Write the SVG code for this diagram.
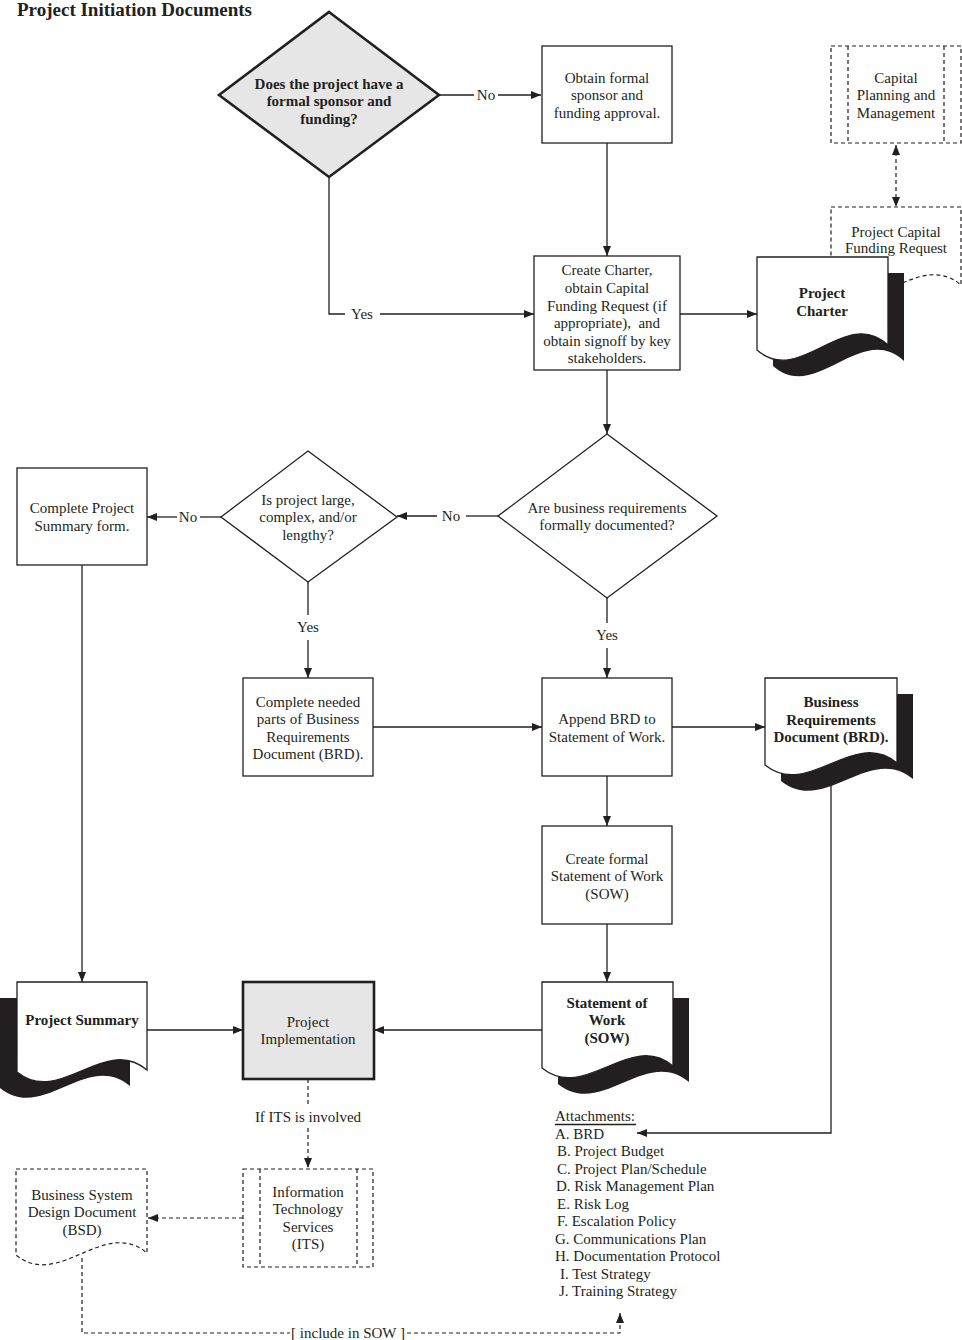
<svg xmlns="http://www.w3.org/2000/svg" width="962" height="1340" viewBox="0 0 962 1340">
<style>
text{font-family:"Liberation Serif","DejaVu Serif",serif;font-size:15px;fill:#231f20;text-anchor:middle}
.b{font-weight:bold}
.l{text-anchor:start}
.ttl{font-size:19px;font-weight:bold;text-anchor:start}
.box{fill:#fff;stroke:#231f20;stroke-width:1.3}
.gray{fill:#e6e6e6;stroke:#231f20;stroke-width:2.6}
.dbox{fill:#fff;stroke:#231f20;stroke-width:1.2;stroke-dasharray:4 3}
.dl{fill:none;stroke:#231f20;stroke-width:1.2;stroke-dasharray:4 3}
.ln{fill:none;stroke:#231f20;stroke-width:1.3}
.sh{fill:#231f20}
</style>
<defs>
<marker id="ar" viewBox="0 0 10 8" refX="10" refY="4" markerWidth="10" markerHeight="8" markerUnits="userSpaceOnUse" orient="auto-start-reverse">
<path d="M0,0 L10,4 L0,8 Z" fill="#231f20"/>
</marker>
</defs>
<rect width="962" height="1340" fill="#fff"/>
<text class="ttl" x="17" y="16">Project Initiation Documents</text>

<g id="connectors">
<path class="ln" d="M439,95 H474"/>
<path class="ln" d="M498,95 H541" marker-end="url(#ar)"/>
<path class="ln" d="M607,143 V256" marker-end="url(#ar)"/>
<path class="ln" d="M329,177 V314 H345"/>
<path class="ln" d="M380,314 H534" marker-end="url(#ar)"/>
<path class="ln" d="M680,314 H757" marker-end="url(#ar)"/>
<path class="dl" d="M896,145 V207" marker-start="url(#ar)" marker-end="url(#ar)"/>
<path class="ln" d="M607,370 V434" marker-end="url(#ar)"/>
<path class="ln" d="M498,516 H466"/>
<path class="ln" d="M437,516 H397" marker-end="url(#ar)"/>
<path class="ln" d="M221,517 H200"/>
<path class="ln" d="M177,517 H147" marker-end="url(#ar)"/>
<path class="ln" d="M82,565 V982" marker-end="url(#ar)"/>
<path class="ln" d="M308,582 V615"/>
<path class="ln" d="M308,640 V678" marker-end="url(#ar)"/>
<path class="ln" d="M607,598 V623"/>
<path class="ln" d="M607,648 V678" marker-end="url(#ar)"/>
<path class="ln" d="M373,727 H542" marker-end="url(#ar)"/>
<path class="ln" d="M672,727 H765" marker-end="url(#ar)"/>
<path class="ln" d="M607,776 V826" marker-end="url(#ar)"/>
<path class="ln" d="M607,924 V982" marker-end="url(#ar)"/>
<path class="ln" d="M542,1030 H374" marker-end="url(#ar)"/>
<path class="ln" d="M147,1030 H243" marker-end="url(#ar)"/>
<path class="dl" d="M308,1079 V1105"/>
<path class="dl" d="M308,1128 V1168" marker-end="url(#ar)"/>
<path class="dl" d="M243,1218 H148" marker-end="url(#ar)"/>
<path class="dl" d="M82,1258 V1333 H290"/>
<path class="dl" d="M407,1333 H620 V1313" marker-end="url(#ar)"/>
<path class="ln" d="M831,775 V1133 H637" marker-end="url(#ar)"/>
<text x="486" y="100">No</text>
<text x="362" y="319">Yes</text>
<text x="451" y="521">No</text>
<text x="188" y="522">No</text>
<text x="308" y="632">Yes</text>
<text x="607" y="640">Yes</text>
<text x="308" y="1122">If ITS is involved</text>
<text x="348" y="1338">[ include in SOW ]</text>
</g>

<g id="q-sponsor">
<polygon class="gray" points="329,12 439,95 329,177 219,95"/>
<text class="b" x="329" y="89">Does the project have a</text>
<text class="b" x="329" y="106">formal sponsor and</text>
<text class="b" x="329" y="124">funding?</text>
</g>

<g id="obtain-sponsor">
<rect class="box" x="542" y="46" width="130" height="97"/>
<text x="607" y="83">Obtain formal</text>
<text x="607" y="100">sponsor and</text>
<text x="607" y="118">funding approval.</text>
</g>

<g id="capital-planning">
<rect class="dbox" x="831" y="46" width="130" height="97"/>
<path class="dl" d="M848,46 V143 M944,46 V143"/>
<text x="896" y="83">Capital</text>
<text x="896" y="100">Planning and</text>
<text x="896" y="118">Management</text>
</g>

<g id="funding-request">
<path class="dbox" d="M831,207 H961 V285 C918.1,249 873.9,322 831,287 Z"/>
<text x="896" y="237">Project Capital</text>
<text x="896" y="253">Funding Request</text>
</g>

<g id="create-charter">
<rect class="box" x="534" y="256" width="146" height="114"/>
<text x="607" y="275">Create Charter,</text>
<text x="607" y="293">obtain Capital</text>
<text x="607" y="311">Funding Request (if</text>
<text x="607" y="328" xml:space="preserve">appropriate),  and</text>
<text x="607" y="346">obtain signoff by key</text>
<text x="607" y="363">stakeholders.</text>
</g>

<g id="project-charter">
<path class="sh" transform="translate(16,16)" d="M757,257 H888 V345 C844.8,305 800.2,388 757,350 Z"/>
<path class="box" d="M757,257 H888 V345 C844.8,305 800.2,388 757,350 Z"/>
<text class="b" x="822" y="298">Project</text>
<text class="b" x="822" y="316">Charter</text>
</g>

<g id="q-brd">
<polygon class="box" points="607,434 717,516 607,598 498,516"/>
<text x="607" y="513">Are business requirements</text>
<text x="607" y="530">formally documented?</text>
</g>

<g id="q-large">
<polygon class="box" points="308,451 397,517 308,582 221,517"/>
<text x="308" y="505">Is project large,</text>
<text x="308" y="522">complex, and/or</text>
<text x="308" y="540">lengthy?</text>
</g>

<g id="project-summary-form">
<rect class="box" x="17" y="468" width="130" height="97"/>
<text x="82" y="513">Complete Project</text>
<text x="82" y="531">Summary form.</text>
</g>

<g id="complete-brd">
<rect class="box" x="243" y="678" width="130" height="98"/>
<text x="308" y="707">Complete needed</text>
<text x="308" y="724">parts of Business</text>
<text x="308" y="742">Requirements</text>
<text x="308" y="759">Document (BRD).</text>
</g>

<g id="append-brd">
<rect class="box" x="542" y="678" width="130" height="98"/>
<text x="607" y="724">Append BRD to</text>
<text x="607" y="742">Statement of Work.</text>
</g>

<g id="brd-doc">
<path class="sh" transform="translate(16,16)" d="M765,678 H897 V763 C853.4,727 808.6,800 765,765 Z"/>
<path class="box" d="M765,678 H897 V763 C853.4,727 808.6,800 765,765 Z"/>
<text class="b" x="831" y="707">Business</text>
<text class="b" x="831" y="725">Requirements</text>
<text class="b" x="831" y="742">Document (BRD).</text>
</g>

<g id="create-sow">
<rect class="box" x="542" y="826" width="130" height="98"/>
<text x="607" y="864">Create formal</text>
<text x="607" y="881">Statement of Work</text>
<text x="607" y="899">(SOW)</text>
</g>

<g id="sow-doc">
<path class="sh" transform="translate(16,16)" d="M542,982 H673 V1066 C629.8,1030 585.2,1103 542,1068 Z"/>
<path class="box" d="M542,982 H673 V1066 C629.8,1030 585.2,1103 542,1068 Z"/>
<text class="b" x="607" y="1008">Statement of</text>
<text class="b" x="607" y="1025">Work</text>
<text class="b" x="607" y="1043">(SOW)</text>
</g>

<g id="project-summary">
<path class="sh" transform="translate(-17,16)" d="M17,982 H147 V1070 C104.1,1034 59.9,1107 17,1072 Z"/>
<path class="box" d="M17,982 H147 V1070 C104.1,1034 59.9,1107 17,1072 Z"/>
<text class="b" x="82" y="1025">Project Summary</text>
</g>

<g id="project-implementation">
<rect class="gray" x="243" y="982" width="131" height="97"/>
<text x="308" y="1027">Project</text>
<text x="308" y="1044">Implementation</text>
</g>

<g id="its">
<rect class="dbox" x="243" y="1169" width="130" height="98"/>
<path class="dl" d="M260,1169 V1267 M357,1169 V1267"/>
<text x="308" y="1197">Information</text>
<text x="308" y="1214">Technology</text>
<text x="308" y="1232">Services</text>
<text x="308" y="1249">(ITS)</text>
</g>

<g id="bsd">
<path class="dbox" d="M16,1169 H147 V1253 C103.8,1217 59.2,1290 16,1255 Z"/>
<text x="82" y="1200">Business System</text>
<text x="82" y="1217">Design Document</text>
<text x="82" y="1235">(BSD)</text>
</g>

<g id="attachments">
<text class="l" x="555" y="1121">Attachments:</text>
<path class="ln" d="M555,1124.5 H636" stroke-width="1"/>
<text class="l" x="555" y="1139">A. BRD</text>
<text class="l" x="557" y="1156">B. Project Budget</text>
<text class="l" x="557" y="1174">C. Project Plan/Schedule</text>
<text class="l" x="556" y="1191">D. Risk Management Plan</text>
<text class="l" x="557" y="1209">E. Risk Log</text>
<text class="l" x="557" y="1226">F. Escalation Policy</text>
<text class="l" x="555" y="1244">G. Communications Plan</text>
<text class="l" x="555" y="1261">H. Documentation Protocol</text>
<text class="l" x="560" y="1279">I. Test Strategy</text>
<text class="l" x="559" y="1296">J. Training Strategy</text>
</g>
</svg>
